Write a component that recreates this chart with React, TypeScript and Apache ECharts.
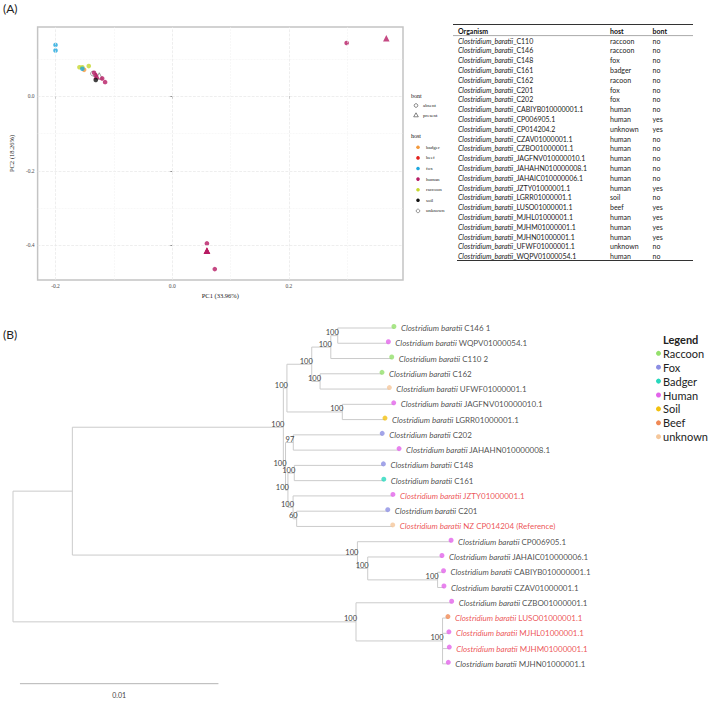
import React, { useEffect, useRef } from 'react';
import * as echarts from 'echarts';

// ---------- (A) PCA + table data ----------
const organisms = ['C110', 'C146', 'C148', 'C161', 'C162', 'C201', 'C202', 'CABIYB010000001.1', 'CP006905.1', 'CP014204.2', 'CZAV01000001.1', 'CZBO01000001.1', 'JAGFNV010000010.1', 'JAHAHN010000008.1', 'JAHAIC010000006.1', 'JZTY01000001.1', 'LGRR01000001.1', 'LUSO01000001.1', 'MJHL01000001.1', 'MJHM01000001.1', 'MJHN01000001.1', 'UFWF01000001.1', 'WQPV01000054.1'];
const hosts = ['raccoon', 'raccoon', 'fox', 'badger', 'racoon', 'fox', 'fox', 'human', 'human', 'unknown', 'human', 'human', 'human', 'human', 'human', 'human', 'soil', 'beef', 'human', 'human', 'human', 'unknown', 'human'];
const bont = ['no', 'no', 'no', 'no', 'no', 'no', 'no', 'no', 'yes', 'yes', 'no', 'no', 'no', 'no', 'no', 'yes', 'no', 'yes', 'yes', 'yes', 'yes', 'no', 'no'];
const pc1 = [-0.159, -0.143, -0.200, -0.151, -0.154, -0.154, -0.200, 0.299, 0.367, -0.125, 0.073, 0.0595, -0.132, -0.120, -0.115, -0.1295, -0.131, 0.0595, 0.0595, 0.0595, 0.0595, -0.136, -0.134];
const pc2 = [0.078, 0.081, 0.123, 0.071, 0.078, 0.074, 0.138, 0.143, 0.156, 0.0545, -0.464, -0.395, 0.057, 0.048, 0.038, 0.0545, 0.044, -0.415, -0.415, -0.415, -0.415, 0.061, 0.063];
const pcaHostLevels = ['badger', 'beef', 'fox', 'human', 'raccoon', 'soil', 'unknown'];
const bontLevels = ['absent', 'present'];
const pcaTicksX = [-0.2, 0, 0.2];
const pcaTicksY = [0, -0.2, -0.4];
const pcaMinorX = [-0.1, 0.1, 0.3];
const pcaMinorY = [0.1, -0.1, -0.3];

// ---------- (B) tree data ----------
const leafLabels = ['C146 1', 'WQPV01000054.1', 'C110 2', 'C162', 'UFWF01000001.1', 'JAGFNV010000010.1', 'LGRR01000001.1', 'C202', 'JAHAHN010000008.1', 'C148', 'C161', 'JZTY01000001.1', 'C201', 'NZ CP014204 (Reference)', 'CP006905.1', 'JAHAIC010000006.1', 'CABIYB010000001.1', 'CZAV01000001.1', 'CZBO01000001.1', 'LUSO01000001.1', 'MJHL01000001.1', 'MJHM01000001.1', 'MJHN01000001.1'];
const leafHosts = ['Raccoon', 'Human', 'Raccoon', 'Raccoon', 'unknown', 'Human', 'Soil', 'Fox', 'Human', 'Fox', 'Badger', 'Human', 'Fox', 'unknown', 'Human', 'Human', 'Human', 'Human', 'Human', 'Beef', 'Human', 'Human', 'Human'];
const leafRed = [false, false, false, false, false, false, false, false, false, false, false, true, false, true, false, false, false, false, false, true, true, true, false];
// depth in 1e-3 substitutions/site
const leafDepth = [19.19, 18.91, 19.08, 18.59, 18.96, 19.18, 18.74, 18.60, 19.45, 18.66, 18.68, 19.14, 18.88, 19.13, 22.07, 21.61, 21.69, 21.71, 22.10, 21.91, 21.96, 21.98, 21.93];
// internal nodes get ids 23, 24, ... in this order
const nodeChildren = [[0, 1], [23, 2], [3, 4], [24, 25], [5, 6], [26, 27], [7, 8], [9, 10], [12, 13], [11, 31], [30, 32], [29, 33], [28, 34], [16, 17], [15, 36], [14, 37], [35, 38], [19, 20, 21, 22], [18, 40], [39, 41]];
const nodeDepth = [16.36, 16.01, 15.47, 15.05, 16.59, 13.80, 14.12, 14.17, 14.29, 14.11, 13.85, 13.73, 13.62, 21.39, 17.87, 17.35, 2.99, 21.64, 17.28, 0];
const nodeSupport = [100, 100, 100, 100, 100, 100, 97, 100, 60, 100, 100, 100, 100, 100, 100, 100, null, 100, 100, null];
const treeLegend = ['Raccoon', 'Fox', 'Badger', 'Human', 'Soil', 'Beef', 'unknown'];
const scaleBarLength = 10; // = 0.01 subs/site
const scaleBarLabel = '0.01';

// ---------- styles ----------
const pcaColors: Record<string, string> = { badger: '#f39a3d', beef: '#e3211c', fox: '#1ea8df', human: '#b61c64', raccoon: '#c6d72e', racoon: '#c6d72e', soil: '#111111', unknown: '#ffffff' };
const treeColors: Record<string, string> = { Raccoon: '#94e06c', Fox: '#8c8ee3', Badger: '#27d8bd', Human: '#e264ea', Soil: '#f2c10f', Beef: '#f08955', unknown: '#f5c79b' };
const SERIF = '"Liberation Serif", "DejaVu Serif", serif';
const SANS = 'Lato, "Open Sans", sans-serif';

function buildOption() {
  // tree geometry
  const depth: number[] = [...leafDepth, ...nodeDepth];
  const ypos: number[] = leafDepth.map((_, i) => i);
  nodeChildren.forEach((ch) => {
    ypos.push((ypos[ch[0]] + ypos[ch[ch.length - 1]]) / 2);
  });
  const segs: number[][] = [];
  nodeChildren.forEach((ch, k) => {
    const id = leafDepth.length + k;
    const d = depth[id];
    segs.push([d, ypos[ch[0]], d, ypos[ch[ch.length - 1]]]);
    ch.forEach((c) => segs.push([d, ypos[c], depth[c], ypos[c]]));
  });
  const supports = nodeChildren
    .map((_, k) => [depth[leafDepth.length + k], ypos[leafDepth.length + k], nodeSupport[k]])
    .filter((r) => r[2] !== null);

  const pcaData = organisms.map((o, i) => {
    const h = hosts[i];
    const yes = bont[i] === 'yes';
    return {
      name: o,
      value: [pc1[i], pc2[i]],
      symbol: yes ? 'triangle' : 'circle',
      symbolSize: yes ? 6.5 : 4.6,
      itemStyle: {
        color: pcaColors[h],
        borderColor: h === 'unknown' ? '#555' : pcaColors[h],
        borderWidth: h === 'unknown' ? 0.7 : 0,
      },
    };
  });

  const graphics: any[] = [];
  graphics.push({ type: 'text', left: 3, top: 2, style: { text: '(A)', font: `12px ${SANS}`, fill: '#222' } });
  graphics.push({ type: 'text', left: 3, top: 328, style: { text: '(B)', font: `12px ${SANS}`, fill: '#222' } });

  // PCA legend
  graphics.push({ type: 'text', x: 411, y: 96, style: { text: 'bont', font: `6px ${SERIF}`, fill: '#111', verticalAlign: 'middle' } });
  bontLevels.forEach((b, i) => {
    const y = 105.5 + i * 9.5;
    if (i === 0) graphics.push({ type: 'circle', shape: { cx: 416, cy: y, r: 1.8 }, style: { fill: 'none', stroke: '#333', lineWidth: 0.6 } });
    else graphics.push({ type: 'polygon', shape: { points: [[416, y - 2.2], [418.3, y + 1.8], [413.7, y + 1.8]] }, style: { fill: 'none', stroke: '#333', lineWidth: 0.6 } });
    graphics.push({ type: 'text', x: 423, y, style: { text: b, font: `5px ${SERIF}`, fill: '#222', verticalAlign: 'middle' } });
  });
  graphics.push({ type: 'text', x: 411, y: 136, style: { text: 'host', font: `6px ${SERIF}`, fill: '#111', verticalAlign: 'middle' } });
  pcaHostLevels.forEach((h, i) => {
    const y = 147.3 + i * 10.6;
    graphics.push({ type: 'circle', shape: { cx: 418, cy: y, r: 1.8 }, style: { fill: pcaColors[h], stroke: h === 'unknown' ? '#555' : pcaColors[h], lineWidth: h === 'unknown' ? 0.6 : 0 } });
    graphics.push({ type: 'text', x: 426, y, style: { text: h, font: `5px ${SERIF}`, fill: '#222', verticalAlign: 'middle' } });
  });

  // Table
  const tx0 = 453, tx1 = 693;
  graphics.push({ type: 'line', shape: { x1: tx0, y1: 24.5, x2: tx1, y2: 24.5 }, style: { stroke: '#333', lineWidth: 1.2 } });
  graphics.push({ type: 'line', shape: { x1: tx0, y1: 35.6, x2: tx1, y2: 35.6 }, style: { stroke: '#555', lineWidth: 0.5 } });
  [['Organism', 458], ['host', 610], ['bont', 652.5]].forEach(([t, x]) => {
    graphics.push({ type: 'text', x, y: 30.5, style: { text: t, font: `bold 7px ${SANS}`, fill: '#111', verticalAlign: 'middle' } });
  });
  organisms.forEach((o, i) => {
    const y = 40.7 + i * 9.79;
    graphics.push({ type: 'text', x: 458, y, style: { text: `{it|Clostridium_baratii}_${o}`, font: `7px ${SANS}`, fill: '#222', verticalAlign: 'middle', rich: { it: { fontStyle: 'italic', fontSize: 7, fontFamily: SANS, fill: '#222' } } } });
    graphics.push({ type: 'text', x: 610, y, style: { text: hosts[i], font: `7px ${SANS}`, fill: '#222', verticalAlign: 'middle' } });
    graphics.push({ type: 'text', x: 652.5, y, style: { text: bont[i], font: `7px ${SANS}`, fill: '#222', verticalAlign: 'middle' } });
  });
  graphics.push({ type: 'line', shape: { x1: 457, y1: 260.5, x2: tx1, y2: 260.5 }, style: { stroke: '#333', lineWidth: 1 } });

  // Tree legend
  graphics.push({ type: 'text', x: 663, y: 339, style: { text: 'Legend', font: `bold 11px ${SANS}`, fill: '#222', verticalAlign: 'middle' } });
  treeLegend.forEach((h, i) => {
    const y = 353.3 + i * 13.9;
    graphics.push({ type: 'circle', shape: { cx: 658.5, cy: y, r: 2.5 }, style: { fill: treeColors[h] } });
    graphics.push({ type: 'text', x: 663, y, style: { text: h, font: `11px ${SANS}`, fill: '#222', verticalAlign: 'middle' } });
  });

  const gridMarkData: any[] = [
    ...pcaTicksX.map((v) => ({ xAxis: v, lineStyle: { color: '#e6e6e6', width: 0.7 } })),
    ...pcaTicksY.map((v) => ({ yAxis: v, lineStyle: { color: '#e6e6e6', width: 0.7 } })),
    ...pcaMinorX.map((v) => ({ xAxis: v, lineStyle: { color: '#f0f0f0', width: 0.5 } })),
    ...pcaMinorY.map((v) => ({ yAxis: v, lineStyle: { color: '#f0f0f0', width: 0.5 } })),
  ];

  return {
    animation: false,
    backgroundColor: '#ffffff',
    grid: [
      { left: 21, top: 27, width: 382, height: 253, show: true, borderColor: '#c4c4c4', borderWidth: 1.5, backgroundColor: 'transparent' },
      { left: 13, top: 328, width: 595.5, height: 377.3, show: false },
    ],
    xAxis: [
      {
        gridIndex: 0, type: 'value', min: -0.2307, max: 0.3956,
        axisLine: { show: false }, splitLine: { show: false },
        axisTick: { show: true, customValues: pcaTicksX, length: 2.5, lineStyle: { color: '#444', width: 0.6 } },
        axisLabel: { customValues: pcaTicksX, formatter: (v: number) => v.toFixed(1), fontSize: 5.5, fontFamily: SERIF, color: '#4d4d4d', margin: 3 },
        name: 'PC1 (33.96%)', nameLocation: 'middle', nameGap: 12, nameTextStyle: { fontSize: 6.5, fontFamily: SERIF, color: '#222' },
      },
      { gridIndex: 1, type: 'value', min: 0, max: 30, show: false },
    ],
    yAxis: [
      {
        gridIndex: 0, type: 'value', min: -0.4932, max: 0.186,
        axisLine: { show: false }, splitLine: { show: false },
        axisTick: { show: true, customValues: pcaTicksY, length: 2.5, lineStyle: { color: '#444', width: 0.6 } },
        axisLabel: { customValues: pcaTicksY, formatter: (v: number) => v.toFixed(1), fontSize: 5.5, fontFamily: SERIF, color: '#4d4d4d', margin: 3 },
        name: 'PC2 (18.26%)', nameLocation: 'middle', nameGap: 14, nameRotate: 90, nameTextStyle: { fontSize: 6.5, fontFamily: SERIF, color: '#222' },
      },
      { gridIndex: 1, type: 'value', min: 0, max: 24.5, inverse: true, show: false },
    ],
    series: [
      {
        type: 'line', xAxisIndex: 0, yAxisIndex: 0, data: [], z: 1, silent: true,
        markLine: { silent: true, symbol: 'none', label: { show: false }, data: gridMarkData },
      },
      {
        type: 'scatter', xAxisIndex: 0, yAxisIndex: 0, z: 3, data: pcaData,
      },
      {
        type: 'custom', xAxisIndex: 1, yAxisIndex: 1, z: 2, data: segs, encode: { x: [0, 2], y: [1, 3] },
        renderItem: (p: any, api: any) => {
          const a = api.coord([api.value(0), api.value(1)]);
          const b = api.coord([api.value(2), api.value(3)]);
          return { type: 'line', shape: { x1: a[0], y1: a[1], x2: b[0], y2: b[1] }, style: { stroke: '#cbcbcb', lineWidth: 1 } };
        },
      },
      {
        type: 'custom', xAxisIndex: 1, yAxisIndex: 1, z: 4, data: supports, encode: { x: 0, y: 1 },
        renderItem: (p: any, api: any) => {
          const a = api.coord([api.value(0), api.value(1)]);
          return { type: 'text', x: a[0] + 1, y: a[1] - 3, style: { text: String(api.value(2)), align: 'right', verticalAlign: 'middle', font: `7.5px ${SANS}`, fill: '#444' } };
        },
      },
      {
        type: 'custom', xAxisIndex: 1, yAxisIndex: 1, z: 2, data: [[0.35, 23.3, 0.35 + scaleBarLength]], encode: { x: [0, 2], y: 1 },
        renderItem: (p: any, api: any) => {
          const a = api.coord([api.value(0), api.value(1)]);
          const b = api.coord([api.value(2), api.value(1)]);
          return {
            type: 'group', children: [
              { type: 'line', shape: { x1: a[0], y1: a[1], x2: b[0], y2: b[1] }, style: { stroke: '#b5b5b5', lineWidth: 1 } },
              { type: 'text', x: (a[0] + b[0]) / 2, y: a[1] + 11.5, style: { text: scaleBarLabel, align: 'center', verticalAlign: 'middle', font: `7px ${SANS}`, fill: '#444' } },
            ],
          };
        },
      },
      {
        type: 'scatter', xAxisIndex: 1, yAxisIndex: 1, z: 5,
        data: leafLabels.map((l, i) => ({
          value: [leafDepth[i], i],
          symbolOffset: [0, -1.5],
          itemStyle: { color: treeColors[leafHosts[i]] },
          label: { color: leafRed[i] ? '#e8282b' : '#222' },
        })),
        symbol: 'circle', symbolSize: 5,
        label: {
          show: true, position: 'right', distance: 4.5, offset: [0, 1.5],
          fontSize: 8, fontFamily: SANS,
          formatter: (p: any) => `{i|Clostridium baratii} ${leafLabels[p.dataIndex]}`,
          rich: { i: { fontStyle: 'italic', fontSize: 8, fontFamily: SANS } },
        },
      },
    ],
    graphic: graphics,
  };
}

export default function App() {
  const ref = useRef<HTMLDivElement>(null);
  useEffect(() => {
    document.body.style.margin = '0';
    const chart = echarts.init(ref.current as HTMLDivElement, null, { renderer: 'svg', width: 709, height: 702 });
    chart.setOption(buildOption() as any);
    return () => chart.dispose();
  }, []);
  return <div ref={ref} style={{ width: 709, height: 702, position: 'absolute', left: 0, top: 0 }} />;
}
